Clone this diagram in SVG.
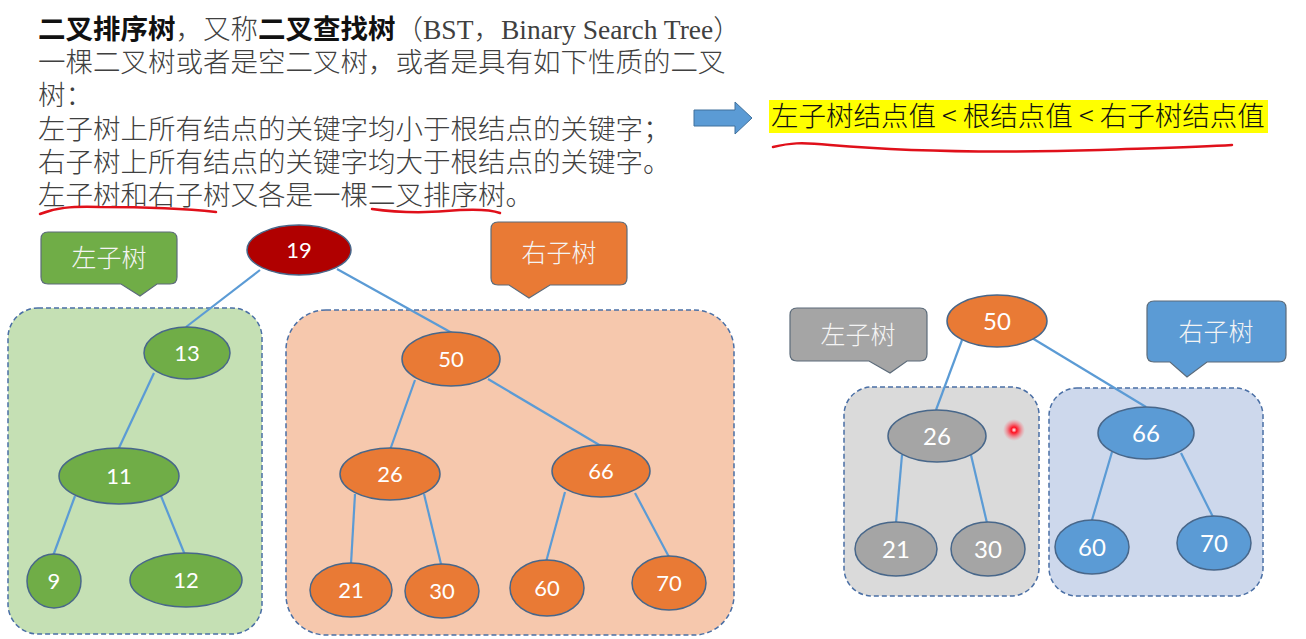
<svg xmlns="http://www.w3.org/2000/svg" width="1306" height="639" viewBox="0 0 1306 639">
<defs>
<style>
.body{font-family:"Liberation Serif","Noto Sans CJK SC",serif;font-size:27.5px;fill:#404040;font-weight:300}
.b{font-weight:bold;fill:#111}
.num{font-family:Lato,"Open Sans",sans-serif;font-size:22px;fill:#fff;text-anchor:middle}
.num2{font-family:Lato,"Open Sans",sans-serif;font-size:24px;fill:#fff;text-anchor:middle}
.cl{font-family:"Noto Sans CJK SC",sans-serif;font-size:25px;fill:#f4f4f4;text-anchor:middle;font-weight:300}
.edge{stroke:#5b9bd5;stroke-width:2.2;fill:none}
.nd{stroke:#48678a;stroke-width:1.5}
.box{stroke:#4a6fa5;stroke-width:1.5;stroke-dasharray:5 3}
.red{stroke:#e0101a;stroke-width:2.5;fill:none;stroke-linecap:round}
.call{stroke:#5c6b7a;stroke-width:1.2}
</style>
<radialGradient id="dot">
<stop offset="0" stop-color="#fff"/>
<stop offset="0.25" stop-color="#ff1020"/>
<stop offset="0.6" stop-color="#ff3040" stop-opacity="0.5"/>
<stop offset="1" stop-color="#ff6070" stop-opacity="0"/>
</radialGradient>
</defs>
<rect width="1306" height="639" fill="#fff"/>

<g id="text">
<text class="body" x="38" y="39"><tspan class="b">二叉排序树</tspan>，又称<tspan class="b">二叉查找树</tspan>（BST，Binary Search Tree）</text>
<text class="body" x="38" y="72">一棵二叉树或者是空二叉树，或者是具有如下性质的二叉</text>
<text class="body" x="38" y="105">树：</text>
<text class="body" x="38" y="139">左子树上所有结点的关键字均小于根结点的关键字；</text>
<text class="body" x="38" y="172">右子树上所有结点的关键字均大于根结点的关键字。</text>
<text class="body" x="38" y="205">左子树和右子树又各是一棵二叉排序树。</text>
<path class="red" d="M40 214 C55 208 70 206 100 207 C140 207 180 208 216 212"/>
<path class="red" d="M372 209 C400 213 430 213 460 210 C480 209 492 210 500 213"/>
</g>

<g id="arrow">
<path d="M694 110 H735 V102 L752 118 L735 134 V126 H694 Z" fill="#5b9bd5" stroke="#41719c" stroke-width="1"/>
</g>

<g id="rule">
<rect x="769" y="100" width="499" height="33" fill="#ffff00"/>
<text x="771" y="126" style="font-family:'Noto Sans CJK SC',sans-serif;font-size:27.5px;fill:#111;font-weight:300">左子树结点值 &lt; 根结点值 &lt; 右子树结点值</text>
<path class="red" d="M773 147 C790 143 800 142 830 145 C900 151 1000 153 1100 150 C1160 148 1200 147 1232 145"/>
</g>

<g id="boxes">
<rect class="box" x="8" y="308" width="254" height="326" rx="30" fill="#c5e0b4"/>
<rect class="box" x="286" y="310" width="448" height="325" rx="40" fill="#f6c8ad"/>
<rect class="box" x="844" y="387" width="195" height="209" rx="28" fill="#dadada"/>
<rect class="box" x="1049" y="388" width="214" height="208" rx="28" fill="#cdd8ec"/>
</g>

<g id="callout-left">
<path class="call" d="M48 232 H170 Q177 232 177 239 V277 Q177 284 170 284 H157 L140 296 L121 284 H48 Q41 284 41 277 V239 Q41 232 48 232 Z" fill="#70ad47"/>
<text class="cl" x="109" y="267">左子树</text>
</g>
<g id="callout-right">
<path class="call" d="M498 222 H620 Q627 222 627 229 V278 Q627 285 620 285 H550 L529 298 L509 285 H498 Q491 285 491 278 V229 Q491 222 498 222 Z" fill="#e97a35"/>
<text class="cl" x="559" y="262">右子树</text>
</g>
<g id="callout-left2">
<path class="call" d="M797 308 H920 Q927 308 927 315 V354 Q927 361 920 361 H907 L890 373 L869 361 H797 Q790 361 790 354 V315 Q790 308 797 308 Z" fill="#a5a5a5"/>
<text class="cl" x="858" y="344">左子树</text>
</g>
<g id="callout-right2">
<path class="call" d="M1154 301 H1279 Q1286 301 1286 308 V355 Q1286 362 1279 362 H1207 L1187 377 L1170 362 H1154 Q1147 362 1147 355 V308 Q1147 301 1154 301 Z" fill="#5b9bd5"/>
<text class="cl" x="1216" y="341">右子树</text>
</g>

<g id="connectors">
<line class="edge" x1="260" y1="270" x2="186" y2="327"/>
<line class="edge" x1="337" y1="269" x2="452" y2="333"/>
<line class="edge" x1="154" y1="373" x2="118" y2="450"/>
<line class="edge" x1="75" y1="496" x2="53" y2="556"/>
<line class="edge" x1="161" y1="496" x2="185" y2="555"/>
<line class="edge" x1="415" y1="380" x2="390" y2="450"/>
<line class="edge" x1="488" y1="379" x2="601" y2="446"/>
<line class="edge" x1="355" y1="494" x2="351" y2="564"/>
<line class="edge" x1="424" y1="494" x2="441" y2="564"/>
<line class="edge" x1="565" y1="492" x2="546" y2="562"/>
<line class="edge" x1="635" y1="493" x2="669" y2="557"/>
<line class="edge" x1="962" y1="340" x2="936" y2="410"/>
<line class="edge" x1="1032" y1="338" x2="1146" y2="407"/>
<line class="edge" x1="902" y1="455" x2="896" y2="523"/>
<line class="edge" x1="971" y1="455" x2="987" y2="523"/>
<line class="edge" x1="1112" y1="452" x2="1092" y2="520"/>
<line class="edge" x1="1181" y1="453" x2="1213" y2="517"/>
</g>

<g id="n19"><ellipse class="nd" cx="299" cy="250" rx="52" ry="25" fill="#b00000"/><text class="num" x="299" y="258">19</text></g>
<g id="n13"><ellipse class="nd" cx="187" cy="353" rx="43" ry="26" fill="#70ad47"/><text class="num" x="187" y="361">13</text></g>
<g id="n11"><ellipse class="nd" cx="119" cy="476" rx="60" ry="28" fill="#70ad47"/><text class="num" x="119" y="484">11</text></g>
<g id="n9"><ellipse class="nd" cx="54" cy="581" rx="27" ry="27" fill="#70ad47"/><text class="num" x="54" y="589">9</text></g>
<g id="n12"><ellipse class="nd" cx="186" cy="580" rx="56" ry="27" fill="#70ad47"/><text class="num" x="186" y="588">12</text></g>
<g id="n50"><ellipse class="nd" cx="451" cy="359" rx="49" ry="27" fill="#e97a35"/><text class="num" x="451" y="367">50</text></g>
<g id="n26"><ellipse class="nd" cx="390" cy="474" rx="50" ry="26" fill="#e97a35"/><text class="num" x="390" y="482">26</text></g>
<g id="n66"><ellipse class="nd" cx="601" cy="471" rx="49" ry="26" fill="#e97a35"/><text class="num" x="601" y="479">66</text></g>
<g id="n21"><ellipse class="nd" cx="351" cy="590" rx="41" ry="27" fill="#e97a35"/><text class="num" x="351" y="598">21</text></g>
<g id="n30"><ellipse class="nd" cx="442" cy="591" rx="37" ry="27" fill="#e97a35"/><text class="num" x="442" y="599">30</text></g>
<g id="n60"><ellipse class="nd" cx="547" cy="588" rx="37" ry="28" fill="#e97a35"/><text class="num" x="547" y="596">60</text></g>
<g id="n70"><ellipse class="nd" cx="669" cy="583" rx="37" ry="27" fill="#e97a35"/><text class="num" x="669" y="591">70</text></g>

<g id="m50"><ellipse class="nd" cx="997" cy="321" rx="50" ry="26" fill="#e97a35"/><text class="num2" x="997" y="330">50</text></g>
<g id="m26"><ellipse class="nd" cx="937" cy="436" rx="49" ry="26" fill="#a5a5a5"/><text class="num2" x="937" y="445">26</text></g>
<g id="m21"><ellipse class="nd" cx="896" cy="549" rx="41" ry="27" fill="#a5a5a5"/><text class="num2" x="896" y="558">21</text></g>
<g id="m30"><ellipse class="nd" cx="988" cy="549" rx="37" ry="27" fill="#a5a5a5"/><text class="num2" x="988" y="558">30</text></g>
<g id="m66"><ellipse class="nd" cx="1146" cy="433" rx="48" ry="26" fill="#5b9bd5"/><text class="num2" x="1146" y="442">66</text></g>
<g id="m60"><ellipse class="nd" cx="1092" cy="547" rx="37" ry="27" fill="#5b9bd5"/><text class="num2" x="1092" y="556">60</text></g>
<g id="m70"><ellipse class="nd" cx="1214" cy="543" rx="37" ry="27" fill="#5b9bd5"/><text class="num2" x="1214" y="552">70</text></g>

<circle cx="1014" cy="430" r="11" fill="url(#dot)"/>
</svg>
